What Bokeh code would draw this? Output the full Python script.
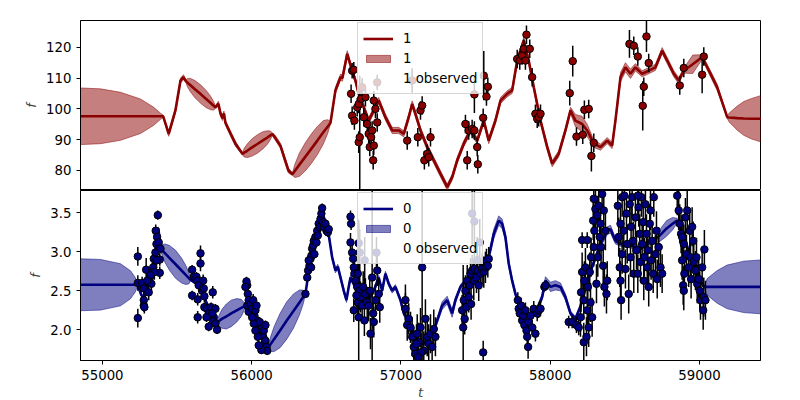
import numpy as np
from bokeh.plotting import figure
from bokeh.models import (Range1d, Legend, LegendItem, ColumnDataSource,
                          FixedTicker, NumeralTickFormatter)
from bokeh.layouts import column
from bokeh.embed import file_html
from bokeh.resources import INLINE

FONT = "DejaVu Sans"

# ---------------- data ----------------
x_ticks = [55000, 56000, 57000, 58000, 59000]
top_yticks = [80, 90, 100, 110, 120]
bot_yticks = [2.0, 2.5, 3.0, 3.5]

# series "1" model (time, mean, sigma)
line1_t = [54800, 54853, 54987, 55121, 55255, 55344, 55389, 55407, 55444, 55489, 55523, 55543, 55559,
           55570, 55590, 55620, 55658, 55695, 55725, 55745, 55757, 55777, 55791, 55804, 55814, 55824,
           55858, 55891, 55938, 55950, 55970, 56000, 56038, 56075, 56105, 56125, 56139, 56159, 56193,
           56226, 56246, 56273, 56290, 56320, 56360, 56400, 56440, 56480, 56510, 56528, 56561, 56595,
           56608, 56640, 56673, 56695, 56717, 56751, 56784, 56818, 56851, 56896, 56941, 56985, 57019,
           57052, 57075, 57097, 57131, 57176, 57220, 57265, 57310, 57343, 57377, 57421, 57466, 57511,
           57555, 57588, 57633, 57667, 57712, 57745, 57779, 57823, 57856, 57890, 57935, 57980, 58013,
           58057, 58102, 58136, 58169, 58214, 58248, 58292, 58337, 58382, 58415, 58437, 58471, 58504,
           58538, 58571, 58616, 58660, 58705, 58750, 58784, 58828, 58861, 58895, 58955, 59018, 59074,
           59119, 59186, 59200, 59253, 59297, 59350, 59409, 59450]
line1_m = [97.6, 97.6, 97.6, 97.6, 97.6, 97.6, 97.6, 97.6, 91.9, 99.5, 109.2, 110.3, 109.0,
           108.5, 107.7, 106.4, 104.8, 103.2, 101.9, 101.0, 100.5, 101.7, 98.5, 97.0, 98.5, 95.5,
           92.0, 88.7, 85.4, 85.8, 86.4, 87.4, 88.6, 89.8, 90.7, 91.4, 91.8, 90.5, 88.0,
           83.0, 80.0, 78.8, 79.9, 81.9, 84.5, 87.1, 89.7, 92.4, 94.3, 95.5, 106.0, 110.3,
           110.0, 117.9, 112.4, 109.2, 104.9, 100.5, 96.2, 99.5, 102.7, 97.3, 93.0, 93.0, 91.9,
           97.3, 101.6, 98.4, 93.0, 87.6, 83.3, 78.9, 74.6, 77.8, 83.3, 88.7, 93.0, 89.7,
           96.2, 89.7, 96.2, 102.7, 104.9, 106.0, 115.7, 122.2, 115.7, 107.0, 96.2, 87.6, 82.2,
           85.4, 93.0, 99.5, 96.2, 95.1, 93.0, 88.7, 87.6, 89.7, 88.1, 96.2, 110.3, 113.5,
           111.4, 113.5, 111.4, 112.4, 113.5, 118.9, 115.7, 111.4, 109.2, 112.4, 114.5, 116.8, 111.4,
           107.0, 97.3, 97.2, 97.0, 96.9, 96.8, 96.8, 96.8]
line1_s = [9.4, 9.2, 8.9, 7.8, 5.6, 2.9, 1.0, 0.4, 0.8, 0.8, 0.8, 0.8, 0.4,
           1.4, 2.2, 2.8, 3.0, 2.8, 2.2, 1.4, 0.4, 0.8, 0.8, 0.8, 0.8, 0.8,
           0.8, 0.8, 0.4, 1.4, 2.2, 2.8, 3.0, 2.8, 2.2, 1.4, 0.4, 0.8, 0.8,
           0.8, 0.8, 0.4, 2.2, 3.8, 4.6, 4.8, 4.6, 3.8, 2.2, 0.4, 1.0, 1.0,
           1.0, 1.0, 1.0, 1.0, 1.0, 1.0, 1.0, 1.0, 1.0, 1.0, 1.0, 1.0, 1.0,
           1.0, 1.0, 1.0, 1.0, 1.0, 1.0, 1.0, 1.0, 1.0, 1.0, 1.0, 1.0, 1.0,
           1.0, 1.0, 1.0, 1.0, 1.0, 1.0, 1.0, 1.0, 1.0, 1.0, 1.0, 1.0, 1.0,
           1.0, 1.0, 1.0, 2.0, 2.5, 2.0, 1.2, 1.0, 1.0, 1.0, 1.0, 1.5, 1.5,
           1.5, 1.2, 1.0, 1.0, 1.0, 1.0, 1.0, 1.0, 1.0, 0.8, 3.0, 0.8, 1.0,
           1.0, 0.4, 1.5, 3.9, 5.5, 6.6, 7.5, 8.0]

# series "1" observations
obs1_t = [56673, 56684, 56666, 56673, 56688, 56717, 56724, 56707, 56717, 56733, 56751, 56762, 56774,
          56784, 56791, 56807, 56800, 56818, 56814, 56829, 56841, 56841, 56818, 56740,
          57042, 57113, 57131, 57142, 57198, 57157, 57176, 57186, 57075,
          57432, 57454, 57477, 57492, 57444, 57511, 57515, 57492, 57551, 57573, 57582, 57555,
          57779, 57796, 57812, 57823, 57841, 57863, 57834, 57879, 57901, 57913, 57923, 57935,
          58131, 58151, 58176, 58218, 58229, 58258, 58276, 58292,
          58531, 58560, 58587, 58645, 58660, 58627, 58620, 58868, 58895, 59018, 59029]
obs1_f = [112.4, 112.7, 104.9, 97.8, 96.2, 89.2, 90.8, 100.5, 101.6, 103.3, 97.3, 103.8, 95.1,
          91.9, 87.6, 93.0, 90.8, 88.1, 83.3, 100.0, 95.6, 108.6, 102.7, 107.0,
          89.7, 90.8, 99.5, 101.1, 90.8, 83.3, 85.4, 84.3, 109.2,
          95.1, 93.0, 93.5, 93.0, 83.3, 87.6, 82.0, 104.7, 97.1, 104.0, 107.2, 110.8,
          116.2, 115.7, 117.3, 119.5, 124.1, 119.5, 115.7, 110.3, 98.4, 96.8, 97.3, 98.4,
          105.1, 115.5, 91.0, 91.6, 99.7, 100.0, 84.7, 89.0,
          121.1, 120.5, 117.0, 123.5, 114.9, 107.2, 101.0, 107.6, 113.3, 111.1, 117.0]
obs1_e = [2.5, 2.5, 3.0, 3.0, 3.0, 3.5, 20.0, 3.0, 3.0, 3.0, 3.0, 3.0, 3.0,
          3.0, 3.0, 3.0, 3.0, 3.0, 3.0, 3.0, 3.0, 2.5, 3.0, 3.0,
          3.0, 3.0, 3.0, 3.0, 3.0, 3.0, 3.0, 3.0, 4.0,
          3.0, 3.0, 3.0, 3.0, 3.0, 3.0, 3.0, 6.0, 3.0, 3.0, 3.0, 8.0,
          3.0, 3.0, 3.0, 3.0, 3.0, 3.0, 3.0, 3.0, 3.0, 3.0, 3.0, 3.0,
          4.0, 5.0, 3.0, 3.0, 3.0, 3.0, 5.0, 3.0,
          4.5, 3.0, 3.0, 5.0, 3.0, 3.0, 8.0, 3.0, 3.0, 6.0, 3.0]

# series "0" model (time, mean, sigma)
line0_t = [54800, 54853, 54987, 55121, 55188, 55221, 55235, 55260, 55280, 55300, 55320, 55340, 55360,
           55375, 55389, 55400, 55420, 55450, 55490, 55530, 55560, 55580, 55590, 55634, 55679, 55712,
           55768, 55780, 55800, 55830, 55863, 55900, 55930, 55950, 55958, 55975, 56000, 56030, 56060,
           56080, 56100, 56110, 56125, 56150, 56190, 56235, 56280, 56320, 56345, 56360, 56380, 56400,
           56420, 56440, 56460, 56475, 56490, 56505, 56516, 56539, 56561, 56577, 56595, 56617, 56635,
           56650, 56662, 56707, 56751, 56784, 56818, 56851, 56874, 56896, 56918, 56941, 56963, 56997,
           57019, 57052, 57086, 57153, 57220, 57243, 57276, 57310, 57343, 57365, 57399, 57477, 57533,
           57588, 57622, 57655, 57678, 57700, 57722, 57745, 57767, 57789, 57846, 57879, 57913, 57946,
           57968, 58002, 58035, 58069, 58102, 58136, 58169, 58203, 58270, 58337, 58382, 58404, 58437,
           58471, 58538, 58605, 58672, 58700, 58740, 58780, 58820, 58850, 58873, 58913, 58953, 58993,
           59033, 59052, 59119, 59186, 59297, 59409, 59450]
line0_m = [2.577, 2.577, 2.577, 2.577, 2.577, 2.577, 2.58, 2.45, 2.40, 2.55, 2.62, 2.80, 3.10,
           3.30, 3.04, 3.02, 2.98, 2.92, 2.84, 2.76, 2.70, 2.66, 2.64, 2.59, 2.42, 2.29,
           2.10, 2.11, 2.14, 2.17, 2.21, 2.25, 2.28, 2.30, 2.31, 2.42, 2.25, 2.10, 1.98,
           1.88, 1.78, 1.77, 1.81, 1.88, 1.99, 2.12, 2.24, 2.35, 2.42, 2.46, 2.72, 2.95,
           3.10, 3.25, 3.40, 3.50, 3.40, 3.30, 3.22, 2.93, 2.76, 2.81, 2.67, 2.50, 2.38,
           2.55, 2.67, 2.50, 2.42, 2.38, 2.50, 2.67, 2.50, 2.72, 2.59, 2.50, 2.55, 2.38,
           2.21, 2.10, 1.91, 1.82, 1.99, 2.12, 2.31, 2.38, 2.21, 2.38, 2.55, 2.72, 2.80,
           2.93, 3.23, 3.40, 3.36, 3.19, 2.85, 2.63, 2.46, 2.33, 2.08, 2.16, 2.27, 2.42,
           2.63, 2.55, 2.57, 2.55, 2.42, 2.21, 2.14, 2.30, 2.75, 3.10, 3.27, 3.29, 3.14,
           3.10, 3.08, 3.05, 3.12, 3.15, 3.22, 3.30, 3.36, 3.40, 3.30, 3.10, 2.85, 2.65,
           2.55, 2.55, 2.55, 2.55, 2.55, 2.55, 2.55]
line0_s = [0.345, 0.333, 0.325, 0.27, 0.18, 0.09, 0.02, 0.02, 0.02, 0.02, 0.02, 0.02, 0.02,
           0.02, 0.01, 0.07, 0.12, 0.16, 0.18, 0.16, 0.12, 0.07, 0.01, 0.02, 0.02, 0.02,
           0.01, 0.07, 0.12, 0.16, 0.17, 0.15, 0.11, 0.05, 0.01, 0.02, 0.02, 0.02, 0.02,
           0.02, 0.02, 0.01, 0.09, 0.16, 0.22, 0.24, 0.22, 0.16, 0.09, 0.01, 0.02, 0.02,
           0.02, 0.02, 0.02, 0.02, 0.02, 0.02, 0.03, 0.03, 0.03, 0.03, 0.03, 0.03, 0.03,
           0.03, 0.03, 0.03, 0.03, 0.03, 0.03, 0.03, 0.03, 0.03, 0.03, 0.03, 0.03, 0.03,
           0.03, 0.03, 0.03, 0.03, 0.03, 0.04, 0.05, 0.05, 0.05, 0.04, 0.03, 0.03, 0.03,
           0.04, 0.06, 0.06, 0.06, 0.05, 0.04, 0.03, 0.03, 0.03, 0.03, 0.03, 0.03, 0.04,
           0.05, 0.06, 0.06, 0.05, 0.04, 0.03, 0.03, 0.03, 0.03, 0.04, 0.05, 0.05, 0.04,
           0.03, 0.03, 0.03, 0.03, 0.04, 0.08, 0.10, 0.08, 0.03, 0.03, 0.03, 0.03, 0.03,
           0.01, 0.107, 0.21, 0.28, 0.33, 0.345, 0.35]

# series "0" observations
obs0_t = [55237, 55237, 55237, 55266, 55277, 55277, 55277, 55281, 55293, 55300, 55310, 55317, 55328,
          55333, 55340, 55344, 55355, 55362, 55357, 55366, 55371, 55377, 55384, 55389, 55384, 55362,
          55348, 55322, 55300,
          55601, 55612, 55630, 55634, 55601, 55638, 55645, 55657, 55657, 55668, 55675, 55679, 55683,
          55683, 55638, 55701, 55712, 55728, 55739, 55746, 55757, 55742, 55757, 55712, 55768, 55735,
          55697,
          55970, 55970, 55980, 55965, 55958, 55974, 55980, 55992, 56003, 56010, 56018, 56025, 56032,
          56037, 56047, 56054, 56063, 56070, 56077, 56081, 56085, 56092, 56099, 56104, 56065, 56047,
          56041, 56025, 56014, 56003, 56092,
          56360, 56372, 56378, 56387, 56394, 56400, 56405, 56412, 56416, 56420, 56427, 56434, 56439,
          56443, 56449, 56456, 56461, 56467, 56472, 56479, 56483, 56494, 56501, 56510, 56516, 56382,
          56398,
          56662, 56666, 56662, 56673, 56680, 56684, 56688, 56695, 56707, 56711, 56717, 56724, 56729,
          56740, 56747, 56755, 56762, 56774, 56784, 56791, 56796, 56807, 56814, 56818, 56829, 56836,
          56841, 56851, 56858, 56684, 56702, 56711, 56717, 56757, 56724,
          57030, 57030, 57052, 57042, 57064, 57075, 57086, 57097, 57109, 57119, 57131, 57142, 57153,
          57164, 57176, 57186, 57198, 57209, 57220, 57231, 57104, 57135, 57113,
          57410, 57417, 57421, 57427, 57432, 57439, 57444, 57454, 57461, 57466, 57470, 57477, 57488,
          57492, 57506, 57515, 57521, 57533, 57544, 57555, 57566, 57573, 57582, 57588, 57551, 57477,
          57492, 57528, 57511,
          57783, 57789, 57796, 57805, 57812, 57819, 57827, 57834, 57841, 57846, 57852, 57856, 57868,
          57879, 57890, 57901, 57913, 57923, 57935, 57961, 57968,
          58124, 58147, 58176, 58191, 58203, 58207, 58214, 58214, 58225, 58225, 58229, 58236, 58243,
          58248, 58248, 58252, 58258, 58265, 58270, 58274, 58281, 58288, 58292, 58292, 58296, 58303,
          58310, 58315, 58319, 58325, 58332, 58337, 58341, 58348, 58355, 58359, 58363, 58370, 58377,
          58382,
          58453, 58459, 58466, 58471, 58475, 58482, 58482, 58493, 58497, 58504, 58511, 58516, 58526,
          58533, 58538, 58542, 58549, 58556, 58560, 58571, 58578, 58587, 58593, 58600, 58605, 58611,
          58616, 58623, 58627, 58631, 58638, 58645, 58650, 58654, 58660, 58667, 58672, 58676, 58683,
          58690, 58694, 58705, 58712, 58717, 58727, 58739, 58750, 58471, 58587,
          58851, 58861, 58868, 58877, 58884, 58891, 58895, 58899, 58906, 58913, 58918, 58928, 58935,
          58940, 58944, 58951, 58958, 58962, 58973, 58980, 58985, 58995, 59002, 59007, 59018, 59025,
          59029, 59033, 59040, 58884, 58895]
obs0_f = [2.94, 2.60, 2.15, 2.60, 2.53, 2.38, 2.31, 2.29, 2.77, 2.61, 2.48, 2.67, 2.59,
          2.76, 2.80, 2.91, 2.99, 3.10, 3.27, 3.19, 3.47, 3.12, 2.90, 3.04, 2.73, 2.89,
          2.74, 2.70, 2.63,
          2.77, 2.68, 2.68, 2.63, 2.44, 2.39, 2.57, 2.98, 2.85, 2.50, 2.63, 2.53, 2.43,
          2.29, 2.16, 2.27, 2.21, 2.29, 2.48, 2.16, 2.27, 2.11, 2.08, 2.04, 2.00, 2.21,
          2.16,
          2.57, 2.31, 2.23, 2.62, 2.55, 2.46, 2.38, 2.33, 2.27, 2.38, 2.18, 2.25, 2.31,
          2.12, 2.06, 2.10, 2.01, 1.96, 1.91, 1.99, 1.82, 1.86, 1.78, 1.73, 1.74, 1.80,
          1.91, 1.99, 2.08, 2.16, 2.06,
          2.46, 2.67, 2.76, 2.82, 2.91, 2.95, 3.04, 3.08, 3.14, 2.97, 3.19, 3.12, 3.27,
          3.21, 3.36, 3.32, 3.42, 3.49, 3.56, 3.38, 3.32, 3.36, 3.27, 3.25, 3.29, 2.89,
          2.80,
          3.45, 3.36, 3.12, 2.99, 2.91, 2.80, 2.72, 2.63, 2.55, 2.35, 2.16, 2.50, 2.42,
          2.31, 2.55, 2.12, 2.46, 2.35, 2.31, 2.50, 1.95, 2.67, 2.21, 2.10, 2.38, 2.99,
          2.76, 2.46, 2.29, 2.25, 2.44, 2.72, 3.11, 2.89, 2.99,
          2.38, 2.27, 2.14, 2.06, 2.03, 1.91, 1.78, 1.69, 1.95, 1.84, 2.03, 2.80, 1.73,
          2.14, 1.91, 1.82, 1.95, 1.78, 2.01, 1.91, 1.82, 1.71, 1.65,
          2.25, 2.03, 2.38, 2.14, 2.50, 2.29, 2.63, 2.42, 2.57, 2.72, 2.33, 2.76, 2.63,
          2.78, 2.67, 2.76, 2.57, 2.72, 2.78, 2.74, 2.80, 2.89, 2.82, 2.91, 1.71, 3.49,
          3.39, 3.12, 2.89,
          2.38, 2.27, 2.21, 2.31, 2.12, 2.18, 2.06, 2.25, 1.99, 1.91, 1.78, 2.10, 2.18,
          2.03, 2.27, 1.95, 2.21, 2.25, 2.27, 2.55, 2.57,
          2.10, 2.10, 2.06, 2.03, 2.16, 2.48, 2.74, 3.15, 1.84, 2.38, 2.63, 2.80, 1.91,
          3.15, 2.25, 2.55, 2.03, 2.74, 2.35, 2.93, 2.16, 3.40, 3.68, 3.06, 3.27, 3.55,
          2.59, 3.47, 2.93, 3.59, 3.19, 3.36, 3.06, 3.74, 2.82, 3.53, 2.55, 3.27, 2.46,
          2.63,
          3.59, 3.19, 2.80, 2.63, 2.38, 3.70, 2.97, 3.27, 3.72, 2.78, 3.49, 3.10, 2.46,
          3.61, 2.93, 3.32, 3.70, 3.14, 2.72, 3.44, 3.02, 2.72, 3.57, 3.23, 2.87, 3.70,
          3.10, 3.38, 2.63, 2.93, 3.61, 3.23, 2.80, 3.02, 2.55, 3.36, 3.53, 2.89, 3.14,
          2.72, 3.70, 2.97, 3.27, 2.65, 3.06, 2.80, 2.72, 3.36, 3.72,
          3.72, 3.53, 3.36, 3.23, 2.89, 2.57, 3.10, 2.72, 3.44, 2.97, 3.53, 2.80, 3.27,
          2.93, 2.65, 3.32, 3.14, 2.87, 2.76, 2.93, 2.59, 2.65, 2.50, 2.38, 2.80, 2.25,
          2.42, 3.03, 2.38, 3.19, 2.50]
obs0_e = [0.12, 0.10, 0.12, 0.08, 0.08, 0.08, 0.08, 0.08, 0.15, 0.10, 0.10, 0.10, 0.08,
          0.10, 0.10, 0.10, 0.08, 0.10, 0.08, 0.08, 0.06, 0.08, 0.08, 0.06, 0.08, 0.10,
          0.10, 0.10, 0.10,
          0.06, 0.06, 0.06, 0.06, 0.06, 0.08, 0.08, 0.10, 0.10, 0.08, 0.08, 0.08, 0.08,
          0.06, 0.08, 0.06, 0.06, 0.06, 0.08, 0.06, 0.06, 0.06, 0.06, 0.06, 0.05, 0.06,
          0.06,
          0.08, 0.06, 0.06, 0.06, 0.06, 0.06, 0.06, 0.06, 0.06, 0.08, 0.06, 0.06, 0.06,
          0.06, 0.06, 0.06, 0.06, 0.06, 0.06, 0.06, 0.06, 0.06, 0.06, 0.05, 0.05, 0.06,
          0.06, 0.06, 0.06, 0.06, 0.06,
          0.05, 0.06, 0.06, 0.06, 0.06, 0.06, 0.06, 0.06, 0.06, 0.06, 0.06, 0.06, 0.06,
          0.06, 0.06, 0.06, 0.06, 0.06, 0.06, 0.06, 0.06, 0.06, 0.06, 0.06, 0.06, 0.06,
          0.06,
          0.08, 0.08, 0.12, 0.10, 0.12, 0.15, 0.15, 0.15, 0.15, 0.20, 1.20, 0.25, 0.20,
          0.20, 0.20, 0.20, 0.20, 0.20, 0.20, 0.20, 0.20, 1.20, 0.20, 0.20, 0.20, 0.20,
          0.20, 0.20, 0.20, 0.15, 0.15, 0.20, 0.30, 0.30, 0.30,
          0.20, 0.20, 0.20, 0.20, 0.20, 0.25, 0.25, 0.25, 0.25, 0.25, 0.25, 1.20, 0.25,
          0.25, 0.25, 0.25, 0.25, 0.25, 0.25, 0.25, 0.25, 0.25, 0.25,
          0.20, 0.80, 0.20, 0.20, 0.20, 0.20, 0.20, 0.20, 0.20, 0.20, 0.20, 0.20, 0.25,
          0.20, 0.20, 0.20, 0.20, 0.20, 0.20, 0.20, 0.20, 0.15, 0.15, 0.15, 0.15, 0.40,
          0.40, 0.30, 0.30,
          0.10, 0.10, 0.10, 0.10, 0.10, 0.10, 0.10, 0.10, 0.10, 0.12, 0.15, 0.10, 0.10,
          0.10, 0.10, 0.10, 0.10, 0.10, 0.10, 0.06, 0.06,
          0.08, 0.08, 0.10, 0.10, 0.25, 0.25, 0.25, 0.10, 0.25, 0.25, 0.25, 0.25, 0.25,
          0.10, 0.25, 0.25, 0.25, 0.25, 0.25, 0.25, 0.25, 0.25, 0.25, 0.25, 0.25, 0.25,
          0.25, 0.25, 0.25, 0.25, 0.25, 0.25, 0.25, 0.25, 0.25, 0.25, 0.25, 0.25, 0.25,
          0.25,
          0.25, 0.25, 0.25, 0.25, 0.25, 0.25, 0.25, 0.25, 0.25, 0.25, 0.25, 0.25, 0.25,
          0.25, 0.25, 0.25, 0.25, 0.25, 0.25, 0.25, 0.25, 0.25, 0.25, 0.25, 0.25, 0.25,
          0.25, 0.25, 0.25, 0.25, 0.25, 0.25, 0.25, 0.25, 0.25, 0.25, 0.25, 0.25, 0.25,
          0.25, 0.25, 0.25, 0.25, 0.25, 0.25, 0.25, 0.25, 0.25, 0.25,
          0.25, 0.25, 0.25, 0.25, 0.25, 0.25, 0.25, 0.25, 0.25, 0.25, 0.25, 0.25, 0.25,
          0.25, 0.25, 0.25, 0.25, 0.25, 0.25, 0.25, 0.25, 0.25, 0.25, 0.25, 0.25, 0.25,
          0.25, 0.25, 0.25, 0.25, 0.25]

# ---------------- figures ----------------
x_range = Range1d(54853, 59409)


def style_axes(p, yticks, yfmt=None):
    for ax in p.yaxis:
        ax.ticker = FixedTicker(ticks=yticks)
        if yfmt:
            ax.formatter = NumeralTickFormatter(format=yfmt)
        ax.axis_label = "f"
        ax.axis_label_text_font = FONT
        ax.axis_label_text_font_style = "italic"
        ax.axis_label_text_font_size = "13px"
        ax.axis_label_standoff = 4
        ax.major_label_text_font = FONT
        ax.major_label_text_font_size = "13.3px"
        ax.major_label_text_color = "black"
        ax.major_label_standoff = 5
        ax.major_tick_out = 4
        ax.major_tick_in = 0
        ax.minor_tick_line_color = None
        ax.axis_line_color = "black"
        ax.major_tick_line_color = "black"
    p.xgrid.visible = False
    p.ygrid.visible = False
    p.outline_line_color = "black"
    p.outline_line_width = 1
    p.background_fill_color = "white"
    p.border_fill_color = "white"


def draw_series(p, lt, lm, ls, ot, of, oe, color, name):
    lt = np.asarray(lt, float)
    lm = np.asarray(lm, float)
    ls = np.asarray(ls, float)
    band_x = np.concatenate([lt, lt[::-1]])
    band_y = np.concatenate([lm + ls, (lm - ls)[::-1]])
    band = p.patch(band_x, band_y, fill_color=color, fill_alpha=0.5,
                   line_color=color, line_alpha=0.5, line_width=1)
    ln = p.line(lt, lm, line_color=color, line_width=2.6)
    src = ColumnDataSource(dict(t=ot, f=of, lo=np.asarray(of) - np.asarray(oe),
                                hi=np.asarray(of) + np.asarray(oe)))
    p.segment(x0="t", y0="lo", x1="t", y1="hi", source=src, line_color="black", line_width=1.5)
    p.scatter(x="t", y="f", source=src, size=7.5, fill_color=color, line_color="black", line_width=1)
    dummy = p.scatter(x=[], y=[], size=0, fill_alpha=0, line_alpha=0)
    legend = Legend(items=[LegendItem(label=name, renderers=[ln]),
                           LegendItem(label=name, renderers=[band]),
                           LegendItem(label=name + " observed", renderers=[dummy])],
                    location=(277, 96), padding=5, spacing=0, margin=0,
                    label_height=20, glyph_height=9, glyph_width=30, label_standoff=10,
                    label_text_font=FONT, label_text_font_size="13.3px",
                    label_text_color="black",
                    background_fill_alpha=0.8, border_line_color="#cccccc",
                    border_line_alpha=0.8)
    p.add_layout(legend, "center")


top = figure(x_range=x_range, y_range=Range1d(73.5, 128.7), frame_width=680, frame_height=170,
             min_border_left=80, min_border_right=40, min_border_top=20, min_border_bottom=0,
             x_axis_location=None, output_backend="svg", toolbar_location=None)
style_axes(top, top_yticks)
draw_series(top, line1_t, line1_m, line1_s, obs1_t, obs1_f, obs1_e, "#8b0000", "1")

bot = figure(x_range=x_range, y_range=Range1d(1.606, 3.786), frame_width=680, frame_height=170,
             min_border_left=80, min_border_right=40, min_border_top=0, min_border_bottom=40,
             output_backend="svg", toolbar_location=None)
style_axes(bot, bot_yticks, "0.0")
for ax in bot.xaxis:
    ax.ticker = FixedTicker(ticks=x_ticks)
    ax.axis_label = "t"
    ax.axis_label_text_font = FONT
    ax.axis_label_text_font_style = "italic"
    ax.axis_label_text_font_size = "13px"
    ax.axis_label_standoff = 2
    ax.major_label_text_font = FONT
    ax.major_label_text_font_size = "13.3px"
    ax.major_label_text_color = "black"
    ax.major_label_standoff = 5
    ax.major_tick_out = 4
    ax.major_tick_in = 0
    ax.minor_tick_line_color = None
    ax.axis_line_color = "black"
    ax.major_tick_line_color = "black"
draw_series(bot, line0_t, line0_m, line0_s, obs0_t, obs0_f, obs0_e, "#000080", "0")

layout = column(top, bot, spacing=0)
open("out.html", "w").write(file_html(layout, INLINE))
